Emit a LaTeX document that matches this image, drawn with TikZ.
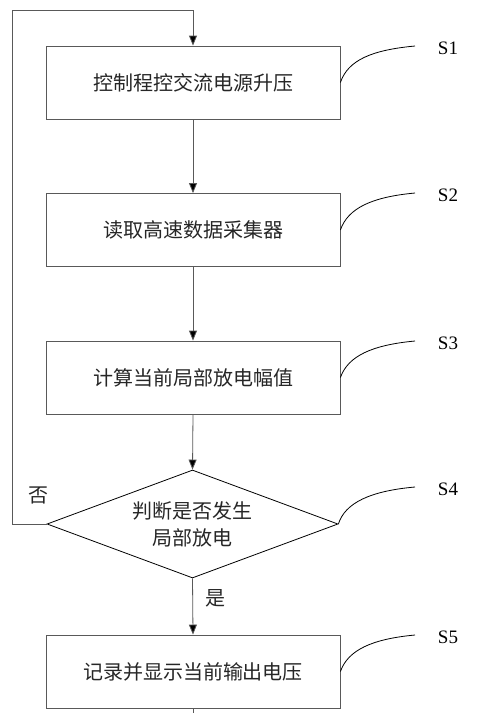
\documentclass[tikz,border=0pt]{standalone}
\usepackage{fontspec}
\setmainfont{Liberation Serif}
\newfontfamily\cjk{Noto Sans CJK SC}
\usetikzlibrary{shapes.geometric,arrows.meta}
\begin{document}
\begin{tikzpicture}[x=1pt,y=-1pt,
  stepbox/.style={draw=black!65,line width=0.8pt,minimum width=294pt,minimum height=73pt,inner sep=0pt,font=\cjk\fontsize{20}{24}\selectfont,text=black!85},
  decide/.style={draw=black,line width=0.8pt,shape=diamond,aspect=2.7,minimum width=291pt,minimum height=108pt,inner sep=0pt,align=center,font=\cjk\fontsize{20}{27}\selectfont,text=black!85},
  flow/.style={draw=black!65,line width=0.8pt,-{Triangle[length=10pt,width=8pt,fill=black]}},
  plain/.style={draw=black!65,line width=0.8pt},
  lead/.style={draw=black,line width=0.8pt},
  tag/.style={font=\fontsize{19}{20}\selectfont,inner sep=0pt},
  cjklabel/.style={font=\cjk\fontsize{20}{22}\selectfont,inner sep=0pt,text=black!85}]
\useasboundingbox (0,0) rectangle (484,713);
\node[stepbox] (s1) at (193,82.5) {控制程控交流电源升压};
\node[stepbox] (s2) at (193,230) {读取高速数据采集器};
\node[stepbox] (s3) at (193,377.5) {计算当前局部放电幅值};
\node[decide] (s4) at (192.5,524) {判断是否发生\\局部放电};
\node[stepbox] (s5) at (193,671.5) {记录并显示当前输出电压};
\draw[flow] (s1.south) -- (s2.north);
\draw[flow] (s2.south) -- (s3.north);
\draw[flow] (s3.south) -- (s4.north);
\draw[flow] (s4.south) -- (s5.north);
\coordinate (cl) at (12,524);
\coordinate (ct) at (12,10);
\coordinate (cm) at (193,10);
\draw[flow] (s4.west) -- (cl) -- (ct) -- (cm) -- (s1.north);
\coordinate (cend) at (193,713);
\draw[plain] (s5.south) -- (cend);
\node[cjklabel] (no) at (38,495) {否};
\node[cjklabel] (yes) at (215,598) {是};
% step labels
\node[tag] (t1) at (448,48) {S1};
\node[tag] (t2) at (448,195) {S2};
\node[tag] (t3) at (448,343) {S3};
\node[tag] (t4) at (448,489) {S4};
\node[tag] (t5) at (448,637) {S5};
\coordinate (e1) at (415,46);
\coordinate (e2) at (415,193);
\coordinate (e3) at (415,341);
\coordinate (e4) at (415,487);
\coordinate (e5) at (415,635);
\draw[lead] (s1.east) .. controls (348,60) and (372,50) .. (e1);
\draw[lead] (s2.east) .. controls (348,208) and (372,197) .. (e2);
\draw[lead] (s3.east) .. controls (348,356) and (372,345) .. (e3);
\draw[lead] (s4.east) .. controls (345,503) and (370,491) .. (e4);
\draw[lead] (s5.east) .. controls (348,650) and (372,639) .. (e5);
\end{tikzpicture}
\end{document}
